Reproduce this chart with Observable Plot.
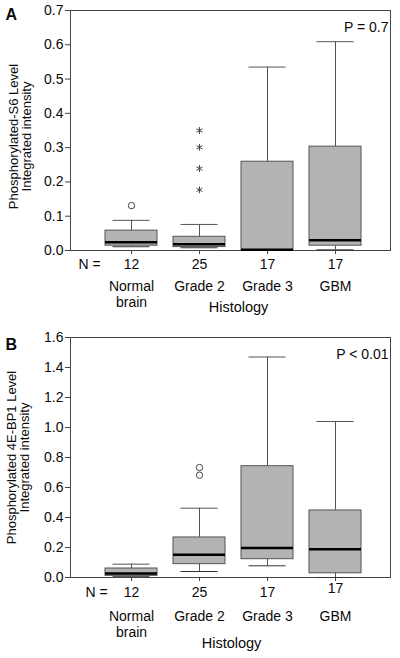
<!DOCTYPE html>
<html><head><meta charset="utf-8">
<script src="https://cdn.jsdelivr.net/npm/d3@7"></script>
<script src="https://cdn.jsdelivr.net/npm/@observablehq/plot@0.6"></script>
<style>
body{margin:0;background:#fff;}
#chart{width:400px;}
#chart svg{display:block;}
</style>
</head><body><div id="chart"></div>
<script>
// ---- shared categories ----
const categories = ["Normal brain", "Grade 2", "Grade 3", "GBM"];
const catLabels = ["Normal\nbrain", "Grade 2", "Grade 3", "GBM"];
const nCounts = [12, 25, 17, 17];

// ---- Panel A: Phosphorylated-S6 ----
const s6Min = [0.011, 0.008, 0.000, 0.002];
const s6Q1 = [0.014, 0.010, 0.001, 0.014];
const s6Median = [0.024, 0.018, 0.002, 0.030];
const s6Q3 = [0.058, 0.040, 0.259, 0.303];
const s6Max = [0.088, 0.076, 0.535, 0.609];
const s6OutCat = ["Normal brain", "Grade 2", "Grade 2", "Grade 2", "Grade 2"];
const s6OutVal = [0.131, 0.350, 0.301, 0.239, 0.177];
const s6OutSym = ["circle", "asterisk", "asterisk", "asterisk", "asterisk"];
const s6Ticks = [0, 0.1, 0.2, 0.3, 0.4, 0.5, 0.6, 0.7];

// ---- Panel B: Phosphorylated 4E-BP1 ----
const bp1Min = [0.008, 0.040, 0.078, 0.000];
const bp1Q1 = [0.011, 0.089, 0.122, 0.028];
const bp1Median = [0.027, 0.151, 0.196, 0.188];
const bp1Q3 = [0.060, 0.267, 0.742, 0.447];
const bp1Max = [0.089, 0.462, 1.470, 1.040];
const bp1OutCat = ["Grade 2", "Grade 2"];
const bp1OutVal = [0.733, 0.682];
const bp1OutSym = ["circle", "circle"];
const bp1Ticks = [0, 0.2, 0.4, 0.6, 0.8, 1.0, 1.2, 1.4, 1.6];

const FONT = "'Liberation Sans', Arial, Helvetica, sans-serif";
const BOX_FILL = "#b3b3b3";
const EDGE = "#555";
const INK = "#0a0a0a";
const FS = 14;

function panel(cfg) {
  const rows = categories.map((c, i) => ({
    cat: c, label: catLabels[i], n: String(nCounts[i]),
    min: cfg.min[i], q1: cfg.q1[i], med: cfg.median[i], q3: cfg.q3[i], max: cfg.max[i]
  }));
  const outs = cfg.outCat.map((c, i) => ({cat: c, v: cfg.outVal[i], sym: cfg.outSym[i]}));
  const L = cfg.layout;
  return Plot.plot({
    width: 400,
    height: L.height,
    marginTop: L.mt,
    marginBottom: L.mb,
    marginLeft: 70,
    marginRight: 10,
    style: {fontFamily: FONT, fontSize: FS + "px", color: INK, background: "#fff", overflow: "visible"},
    x: {type: "band", domain: categories, paddingInner: 0.24, paddingOuter: 0.44, align: 0.54},
    y: {domain: cfg.domain},
    symbol: {type: "identity"},
    marks: [
      Plot.frame({stroke: "#444"}),
      Plot.axisY({ticks: cfg.ticks, tickFormat: d3.format(".1f"), tickSize: 5, tickPadding: 2, label: null, fontSize: FS, stroke: "#444"}),
      Plot.axisX({tickSize: 4, tickFormat: () => "", label: null, stroke: "#444"}),
      // whiskers and caps
      Plot.ruleX(rows, {x: "cat", y1: "q3", y2: "max", stroke: EDGE, strokeWidth: 1}),
      Plot.ruleX(rows, {x: "cat", y1: "min", y2: "q1", stroke: EDGE, strokeWidth: 1}),
      Plot.tickY(rows, {x: "cat", y: "max", stroke: EDGE, strokeWidth: 1, insetLeft: 7.5, insetRight: 7.5}),
      Plot.tickY(rows, {x: "cat", y: "min", stroke: "#333", strokeWidth: 1, insetLeft: 7.5, insetRight: 7.5}),
      // boxes and medians
      Plot.barY(rows, {x: "cat", y1: "q1", y2: "q3", fill: BOX_FILL, stroke: EDGE, strokeWidth: 1, inset: 0}),
      Plot.tickY(rows, {x: "cat", y: "med", stroke: "#000", strokeWidth: 2.5}),
      // outliers
      Plot.dot(outs, {x: "cat", y: "v", symbol: "sym", r: 3.2, stroke: "#444", strokeWidth: 1, fill: "none"}),
      // N row
      Plot.text(["N ="], {frameAnchor: "bottom-left", textAnchor: "start", lineAnchor: "top", dx: L.nDx, dy: L.nDy, fontSize: FS, fill: INK}),
      Plot.text(rows, {filter: (d) => d.cat !== "GBM", x: "cat", text: "n", frameAnchor: "bottom", lineAnchor: "top", dy: L.nDy, fontSize: FS, fill: INK}),
      Plot.text(rows, {filter: (d) => d.cat === "GBM", x: "cat", text: "n", frameAnchor: "bottom", lineAnchor: "top", dy: L.nDyLast, fontSize: FS, fill: INK}),
      // category names
      Plot.text(rows, {x: "cat", text: "label", frameAnchor: "bottom", lineAnchor: "top", dy: L.catDy, lineHeight: 1.1, fontSize: FS, fill: INK}),
      // x title
      Plot.text(["Histology"], {frameAnchor: "bottom", lineAnchor: "top", dx: L.hDx, dy: L.hDy, fontSize: 14.5, fill: INK}),
      // y title (two lines)
      Plot.text([cfg.ylabel], {frameAnchor: "left", textAnchor: "middle", lineAnchor: "middle", rotate: -90, dx: L.yDx, dy: L.yDy, lineHeight: 1.0, fontSize: 13, fill: INK}),
      // P value
      Plot.text([cfg.pText], {frameAnchor: "top-right", textAnchor: "end", lineAnchor: "top", dx: -2, dy: L.pDy, fontSize: FS, fill: INK}),
      // panel letter
      Plot.text([cfg.letter], {frameAnchor: "top-left", textAnchor: "start", lineAnchor: "top", dx: -65, dy: L.letterDy, fontSize: 16, fontWeight: "bold", fill: INK})
    ]
  });
}

const chart = document.getElementById("chart");
chart.append(panel({
  min: s6Min, q1: s6Q1, median: s6Median, q3: s6Q3, max: s6Max,
  outCat: s6OutCat, outVal: s6OutVal, outSym: s6OutSym,
  domain: [0, 0.7], ticks: s6Ticks,
  ylabel: "Phosphorylated-S6 Level\nIntegrated intensity",
  pText: "P = 0.7", letter: "A",
  layout: {height: 320, mt: 10, mb: 70, nDx: 8, nDy: 9, nDyLast: 9, catDy: 30, hDx: 8, hDy: 51.5, yDx: -50, yDy: 6, pDy: 12, letterDy: -2}
}));
chart.append(panel({
  min: bp1Min, q1: bp1Q1, median: bp1Median, q3: bp1Q3, max: bp1Max,
  outCat: bp1OutCat, outVal: bp1OutVal, outSym: bp1OutSym,
  domain: [0, 1.6], ticks: bp1Ticks,
  ylabel: "Phosphorylated 4E-BP1 Level\nIntegrated intensity",
  pText: "P < 0.01", letter: "B",
  layout: {height: 338, mt: 17, mb: 81, nDx: 15, nDy: 10, nDyLast: 6, catDy: 33, hDx: 1, hDy: 60.5, yDx: -52, yDy: 0, pDy: 12, letterDy: 1}
}));
</script>
</body></html>
